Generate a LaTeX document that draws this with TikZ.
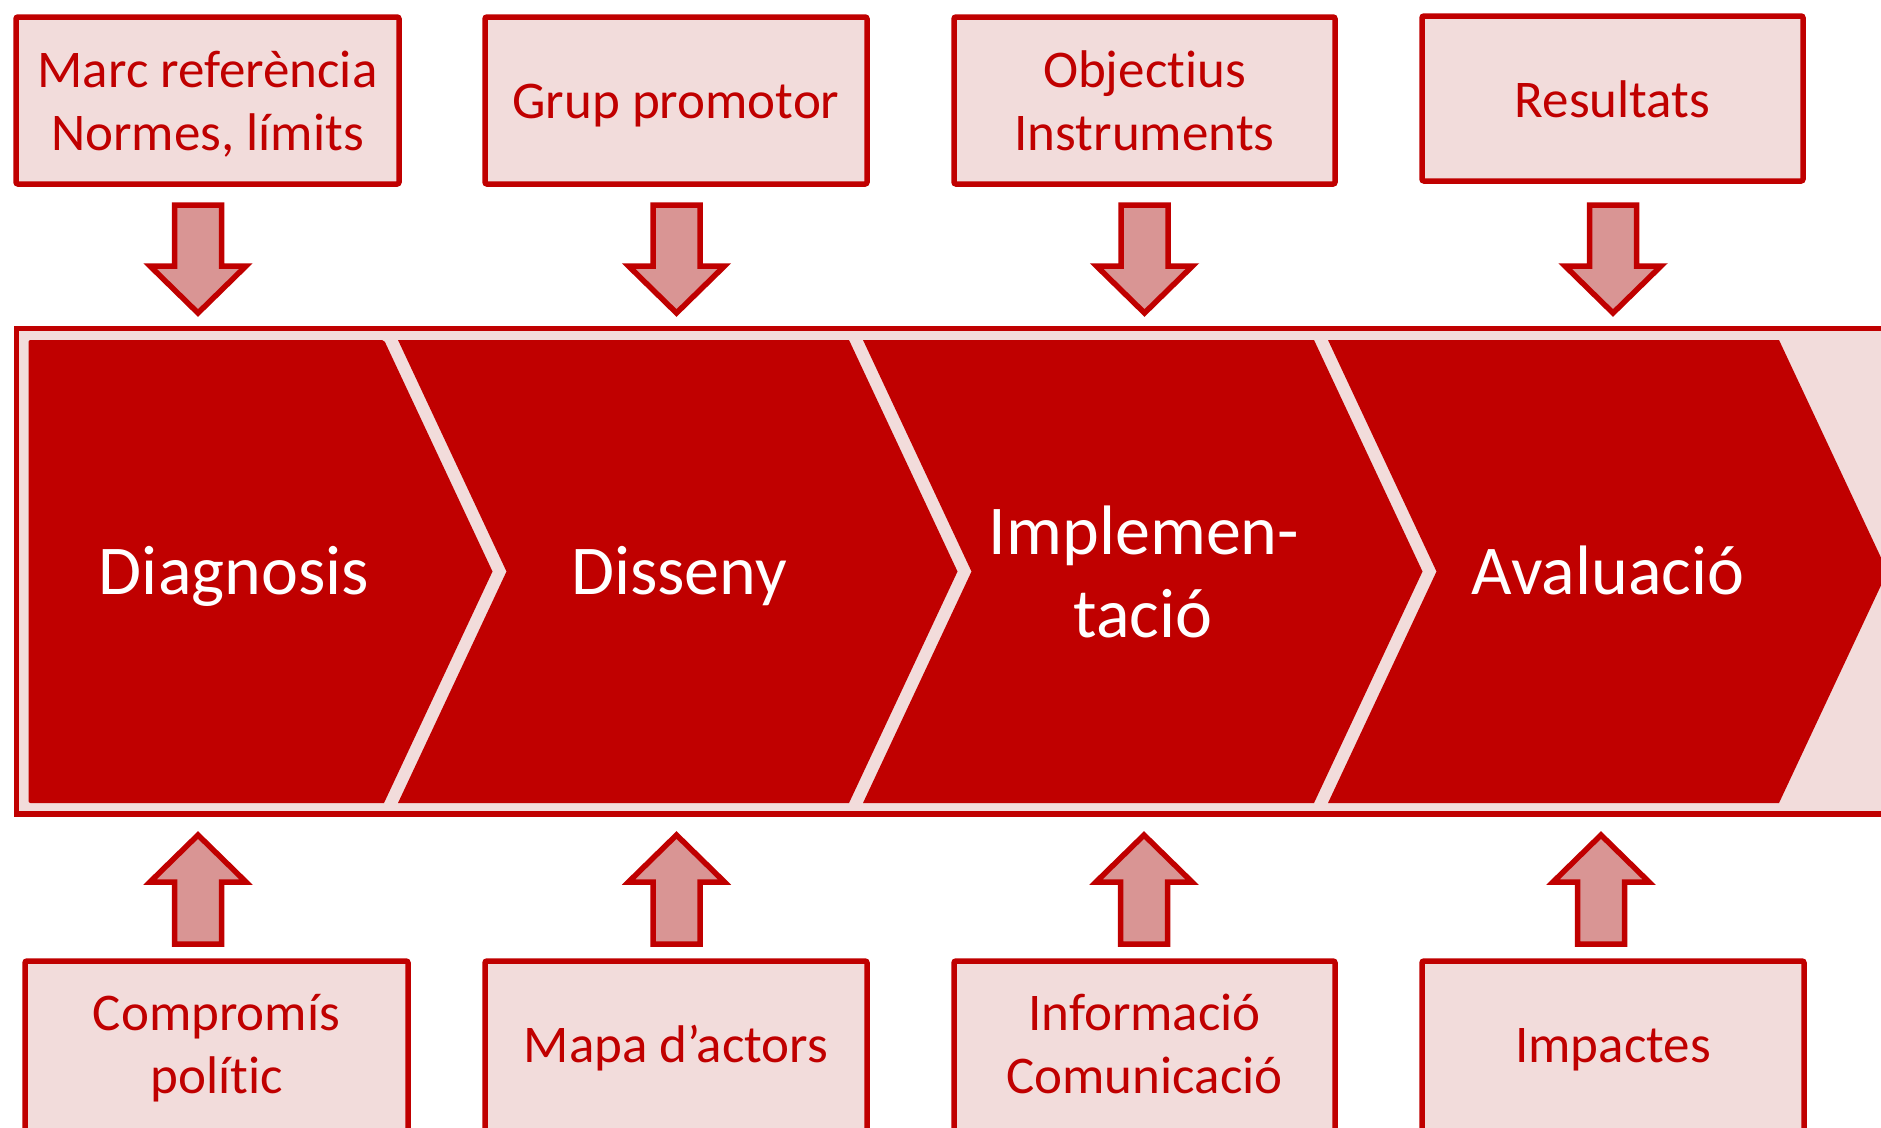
\documentclass[tikz,border=0pt]{standalone}
\usepackage{fontspec}
\setmainfont{Carlito}[Ligatures={NoCommon,NoRare,NoContextual},RawFeature={-liga;-dlig;-clig}]
\usetikzlibrary{calc}
\definecolor{cred}{HTML}{C00000}
\definecolor{cpink}{HTML}{F2DCDB}
\definecolor{carrow}{HTML}{D99594}
\newcommand\DnArr[2]{% #1 name, #2 center x
  \draw[blockarrow] (#2-23.5,205) -- (#2+23.5,205) -- (#2+23.5,266) -- (#2+48,266) -- (#2,313) -- (#2-48,266) -- (#2-23.5,266) -- cycle;
  \coordinate (#1) at (#2,313);}
\newcommand\UpArr[2]{%
  \draw[blockarrow] (#2-23.5,944) -- (#2+23.5,944) -- (#2+23.5,882) -- (#2+48,882) -- (#2,835) -- (#2-48,882) -- (#2-23.5,882) -- cycle;
  \coordinate (#1) at (#2,835);}
\tikzset{
  tbox/.style={draw=cred, line width=5.5pt, fill=cpink, rounded corners=2pt, inner sep=0pt},
  btext/.style={text=cred, inner sep=0pt, anchor=base, font=\fontsize{53}{63}\selectfont},
  ctext/.style={text=white, inner sep=0pt, anchor=base, font=\fontsize{70}{83}\selectfont},
  blockarrow/.style={draw=cred, line width=5.5pt, fill=carrow, line join=miter},
  chev/.style={fill=cred},
}
\begin{document}
\begin{tikzpicture}[x=1pt,y=-1pt]
\useasboundingbox (0,0) rectangle (1881,1127);
\clip (0,0) rectangle (1881,1127);
\fill[white] (0,0) rectangle (1881,1127);
% band
\draw[draw=cred, line width=5.5pt, fill=cpink] (16.5,328.5) rectangle (1960,814);
% chevrons
\fill[chev, rounded corners=2pt] (28.5,340) -- (384,340) [sharp corners] -- (492.5,571.5) -- (384,803) [rounded corners=2pt] -- (28.5,803) -- cycle;
\fill[chev] (398,340) -- (849,340) -- (957.5,571.5) -- (849,803) -- (398,803) -- (506.5,571.5) -- cycle;
\fill[chev] (863,340) -- (1314,340) -- (1422.5,571.5) -- (1314,803) -- (863,803) -- (971.5,571.5) -- cycle;
\fill[chev] (1328,340) -- (1779,340) -- (1887.5,571.5) -- (1779,803) -- (1328,803) -- (1436.5,571.5) -- cycle;
% chevron texts
\node[ctext] (c1) at (234,594.5) {Diagnosis};
\node[ctext] (c2) at (679,594.5) {Disseny};
\node[ctext] (c3a) at (1144,554) {Implemen-};
\node[ctext] (c3b) at (1143,637.5) {tació};
\node[ctext] (c4) at (1608,594.5) {Avaluació};
% top boxes
\node[tbox, minimum width=383pt, minimum height=167pt] (t1) at (207.5,100.5) {};
\node[tbox, minimum width=382pt, minimum height=167pt] (t2) at (676,100.5) {};
\node[tbox, minimum width=381pt, minimum height=167pt] (t3) at (1144.5,100.5) {};
\node[tbox, minimum width=381pt, minimum height=165pt] (t4) at (1612.5,98.5) {};
\node[btext] (t1a) at (207.5,87) {Marc referència};
\node[btext] (t1b) at (207.5,150) {Normes, límits};
\node[btext] (t2a) at (676,118) {Grup promotor};
\node[btext] (t3a) at (1144.5,87) {Objectius};
\node[btext] (t3b) at (1144.5,150) {Instruments};
\node[btext] (t4a) at (1612.5,117) {Resultats};
% bottom boxes
\node[tbox, minimum width=383pt, minimum height=179pt] (u1) at (216.5,1050.5) {};
\node[tbox, minimum width=382pt, minimum height=179pt] (u2) at (676,1050.5) {};
\node[tbox, minimum width=381pt, minimum height=179pt] (u3) at (1144.5,1050.5) {};
\node[tbox, minimum width=382pt, minimum height=179pt] (u4) at (1613,1050.5) {};
\node[btext] (u1a) at (216.5,1030) {Compromís};
\node[btext] (u1b) at (216.5,1093) {polític};
\node[btext] (u2a) at (676,1062) {Mapa d’actors};
\node[btext] (u3a) at (1144.5,1030) {Informació};
\node[btext] (u3b) at (1144.5,1093) {Comunicació};
\node[btext] (u4a) at (1613,1062) {Impactes};
% arrows
\DnArr{a1}{198}
\DnArr{a2}{676.5}
\DnArr{a3}{1144.5}
\DnArr{a4}{1613}
\UpArr{v1}{198}
\UpArr{v2}{676.5}
\UpArr{v3}{1144}
\UpArr{v4}{1601}
\end{tikzpicture}
\end{document}
